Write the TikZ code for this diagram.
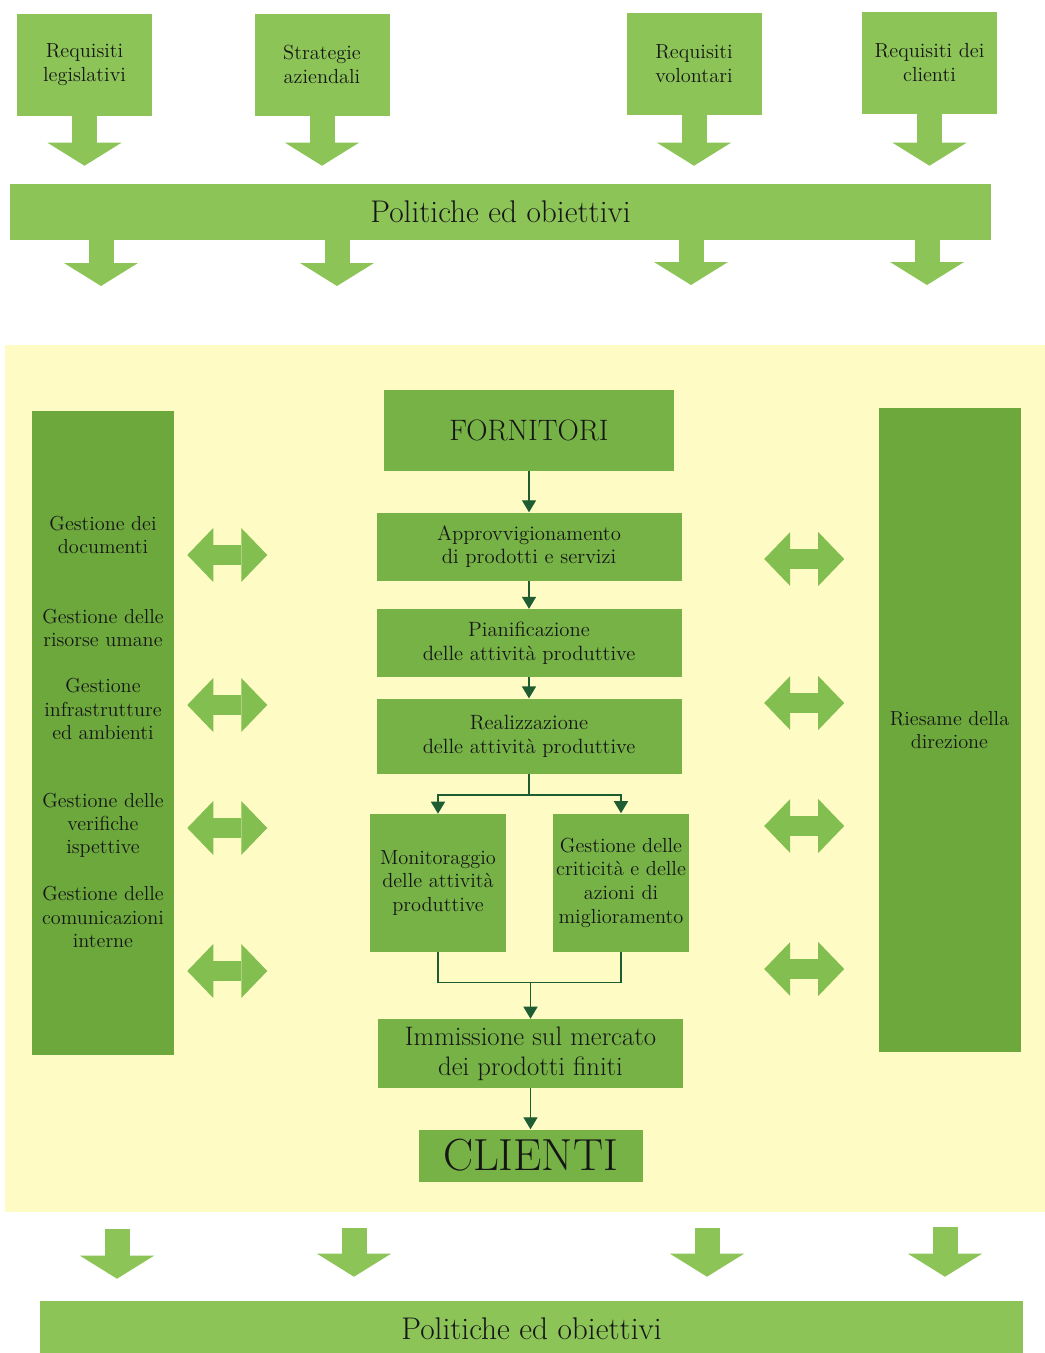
\documentclass[tikz,border=0pt]{standalone}
\usetikzlibrary{arrows.meta, positioning, calc}

\definecolor{paleyellow}{RGB}{254,252,196}
\definecolor{lightgreen}{RGB}{140,196,88}
\definecolor{arrowgreen}{RGB}{130,190,80}
\definecolor{boxgreen}{RGB}{118,178,70}
\definecolor{colgreen}{RGB}{108,168,60}
\definecolor{darkgreen}{RGB}{30,92,50}
\definecolor{inkgray}{RGB}{22,22,22}

\begin{document}
\begin{tikzpicture}[
        topbox/.style={rectangle, fill=lightgreen, minimum width=3.375cm, minimum height=2.55cm, align=center, text=inkgray, font=\fontsize{14.5}{17}\selectfont},
        bar/.style={rectangle, fill=lightgreen, minimum height=1.4cm, text=inkgray, font=\fontsize{22.3}{26}\selectfont},
        column/.style={rectangle, fill=colgreen, minimum width=3.55cm, minimum height=16.1cm},
        side/.style={align=center, text=inkgray, font=\fontsize{14.4}{16.4}\selectfont},
        stage/.style={rectangle, fill=boxgreen, minimum width=7.625cm, minimum height=1.7cm, align=center, text=inkgray, font=\fontsize{14.7}{16.8}\selectfont},
        flow/.style={draw=darkgreen, line width=1pt, -{Triangle[width=0.35cm, length=0.3cm]}},
        fatdown/.style={draw=lightgreen, line width=0.625cm, -{Triangle[width=1.85cm, length=0.575cm, line width=0pt]}},
        fatboth/.style={draw=arrowgreen, line width=0.5cm, {Triangle[width=1.35cm, length=0.65cm, line width=0pt]}-{Triangle[width=1.35cm, length=0.65cm, line width=0pt]}}
    ]
    
    \useasboundingbox (0,0) rectangle (26.125,-33.825);
    
    % Yellow area
    \fill[paleyellow] (0.125,-8.625) rectangle (26.125,-30.3);
    
    % --- Inputs ---
    \node[topbox] (reqleg) at (2.1125,-1.625) {Requisiti\\legislativi};
    \node[topbox] (strat) at (8.05,-1.6125) {Strategie\\aziendali};
    \node[topbox] (reqvol) at (17.35,-1.5875) {Requisiti\\volontari};
    \node[topbox] (reqcli) at (23.2375,-1.5625) {Requisiti dei\\clienti};
    
    \node[bar, minimum width=24.525cm] (poltop) at (12.5125,-5.3) {Politiche ed obiettivi};
    
    \draw[fatdown, shorten >=0.45cm] (reqleg.south) -- (reqleg.south |- poltop.north);
    \draw[fatdown, shorten >=0.45cm] (strat.south) -- (strat.south |- poltop.north);
    \draw[fatdown, shorten >=0.45cm] (reqvol.south) -- (reqvol.south |- poltop.north);
    \draw[fatdown, shorten >=0.45cm] (reqcli.south) -- (reqcli.south |- poltop.north);
    
    % Arrows out of the top bar
    \coordinate (tip1) at (2.525,-7.15);
    \coordinate (tip2) at (8.425,-7.15);
    \coordinate (tip3) at (17.275,-7.125);
    \coordinate (tip4) at (23.175,-7.125);
    \draw[fatdown] (poltop.south -| tip1) -- (tip1);
    \draw[fatdown] (poltop.south -| tip2) -- (tip2);
    \draw[fatdown] (poltop.south -| tip3) -- (tip3);
    \draw[fatdown] (poltop.south -| tip4) -- (tip4);
    
    % --- Side columns ---
    \node[column] (leftcol) at (2.575,-18.325) {};
    \node[side, yshift=4.95cm] (gdoc) at (leftcol.center) {Gestione dei\\documenti};
    \node[side, yshift=2.625cm] (grisorse) at (leftcol.center) {Gestione delle\\risorse umane};
    \node[side, yshift=0.6cm] (ginfra) at (leftcol.center) {Gestione\\infrastrutture\\ed ambienti};
    \node[side, yshift=-2.3cm] (gverif) at (leftcol.center) {Gestione delle\\verifiche\\ispettive};
    \node[side, yshift=-4.6cm] (gcomm) at (leftcol.center) {Gestione delle\\comunicazioni\\interne};
    
    \node[column, side] (rightcol) at (23.7375,-18.25) {Riesame della\\direzione};
    
    % Double arrows, left
    \draw[fatboth] ($(leftcol.east)+(0.325,4.45)$) -- ($(leftcol.east)+(2.325,4.45)$);
    \draw[fatboth] ($(leftcol.east)+(0.325,0.7)$) -- ($(leftcol.east)+(2.325,0.7)$);
    \draw[fatboth] ($(leftcol.east)+(0.325,-2.375)$) -- ($(leftcol.east)+(2.325,-2.375)$);
    \draw[fatboth] ($(leftcol.east)+(0.325,-5.95)$) -- ($(leftcol.east)+(2.325,-5.95)$);
    
    % Double arrows, right
    \draw[fatboth] ($(rightcol.west)+(-2.85,4.275)$) -- ($(rightcol.west)+(-0.85,4.275)$);
    \draw[fatboth] ($(rightcol.west)+(-2.85,0.675)$) -- ($(rightcol.west)+(-0.85,0.675)$);
    \draw[fatboth] ($(rightcol.west)+(-2.85,-2.4)$) -- ($(rightcol.west)+(-0.85,-2.4)$);
    \draw[fatboth] ($(rightcol.west)+(-2.85,-5.975)$) -- ($(rightcol.west)+(-0.85,-5.975)$);
    
    % --- Process chain ---
    \node[stage, minimum width=7.25cm, minimum height=2.025cm, font=\fontsize{21}{24}\selectfont] (forn) at (13.225,-10.7625) {FORNITORI};
    \node[stage, below=1.025cm of forn] (approv) {Approvvigionamento\\di prodotti e servizi};
    \node[stage, below=0.7cm of approv] (pian) {Pianificazione\\delle attività produttive};
    \node[stage, minimum height=1.875cm, below=0.525cm of pian] (real) {Realizzazione\\delle attività produttive};
    
    \node[stage, minimum width=3.4cm, minimum height=3.45cm, inner xsep=1pt, font=\fontsize{14.5}{16.8}\selectfont] (monit) at (10.95,-22.075) {Monitoraggio\\delle attività\\produttive};
    \node[stage, minimum width=3.4cm, minimum height=3.45cm, inner xsep=1pt, font=\fontsize{14.5}{16.8}\selectfont] (crit) at (15.525,-22.0625) {Gestione delle\\criticità e delle\\azioni di\\miglioramento};
    
    \node[stage, minimum height=1.725cm, font=\fontsize{19}{21.3}\selectfont] (immis) at (13.2625,-26.3375) {Immissione sul mercato\\dei prodotti finiti};
    \node[stage, minimum width=5.6cm, minimum height=1.3cm, inner sep=0pt, font=\fontsize{32}{32}\selectfont, below=1.025cm of immis] (clienti) {CLIENTI};
    
    \draw[flow] (forn) -- (approv);
    \draw[flow] (approv) -- (pian);
    \draw[flow] (pian) -- (real);
    
    % Split and merge
    \coordinate (split) at ($(real.south)+(0,-0.525)$);
    \draw[flow] (real.south) -- (split) -| (monit.north);
    \draw[flow] (split) -| (crit.north);
    
    \coordinate (merge) at ($(immis.north)+(0,0.9)$);
    \draw[draw=darkgreen, line width=1pt] (monit.south) |- (merge) -| (crit.south);
    \draw[flow] (merge) -- (immis.north);
    \draw[flow] (immis) -- (clienti);
    
    % --- Outputs ---
    \node[bar, minimum width=24.575cm] (polbot) at (13.2875,-33.225) {Politiche ed obiettivi};
    
    \coordinate (src1) at (2.925,-30.725);
    \coordinate (src2) at (8.85,-30.7);
    \coordinate (src3) at (17.675,-30.7);
    \coordinate (src4) at (23.625,-30.675);
    \draw[fatdown, shorten >=0.55cm] (src1) -- (src1 |- polbot.north);
    \draw[fatdown, shorten >=0.6cm] (src2) -- (src2 |- polbot.north);
    \draw[fatdown, shorten >=0.6cm] (src3) -- (src3 |- polbot.north);
    \draw[fatdown, shorten >=0.6cm] (src4) -- (src4 |- polbot.north);
    
\end{tikzpicture}
\end{document}
